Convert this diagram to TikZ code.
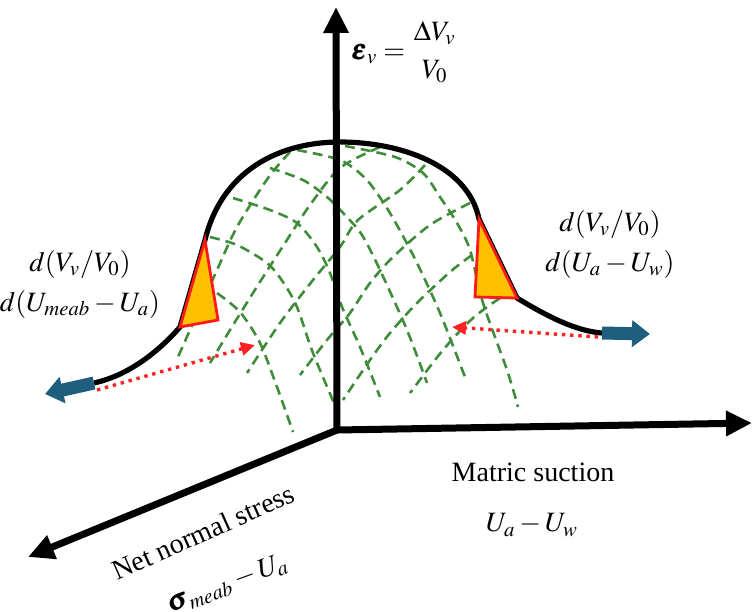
\documentclass[tikz,border=0pt]{standalone}
\usepackage{amsmath}
\usepackage{mathptmx}
\usepackage{fontspec}
\setmainfont{Liberation Serif}
\usetikzlibrary{arrows.meta}
\definecolor{Ink}{HTML}{000000}
\definecolor{Mesh}{HTML}{3F8C3A}
\definecolor{Wedge}{HTML}{FFC000}
\definecolor{WedgeLine}{HTML}{FF1A1A}
\definecolor{Flow}{HTML}{1F5E7E}
\definecolor{Hint}{HTML}{FF2222}
\tikzset{
  axis/.style={draw=Ink,line width=3.5pt,-{Triangle[length=13pt,width=12pt]}},
  crest/.style={draw=Ink,line width=2.6pt},
  meshline/.style={draw=Mesh,line width=1.3pt,dash pattern=on 5pt off 3pt},
  wedge/.style={draw=WedgeLine,fill=Wedge,line width=1.4pt,line join=miter},
  flowarr/.style={draw=Flow,line width=6.5pt,-{Triangle[length=9pt,width=13pt]}},
  hintarr/.style={draw=Hint,line width=1.7pt,dash pattern=on 1.7pt off 2.4pt,-{Triangle[length=7pt,width=6.5pt]}},
  lbl/.style={font=\fontsize{14}{16}\selectfont,inner sep=0pt},
  eqn/.style={font=\fontsize{14}{20}\selectfont,align=center,inner sep=0pt}
}
\begin{document}
\begin{tikzpicture}[x=0.5pt,y=-0.5pt]
  \useasboundingbox (0,0) rectangle (754,611);
  % mesh on the surface: meridians
  \draw[meshline] plot[smooth] coordinates {(217,293) (240,312) (260,343) (277,387) (293,432)};
  \draw[meshline] plot[smooth] coordinates {(210,237) (237,245) (267,263) (283,282) (297,307) (313,353) (337,410)};
  \draw[meshline] plot[smooth] coordinates {(233,198) (270,210) (297,223) (317,247) (330,273) (342,307) (360,347) (380,397)};
  \draw[meshline] plot[smooth] coordinates {(270,168) (303,180) (327,197) (345,215) (362,235) (380,270) (407,330) (427,383)};
  \draw[meshline] plot[smooth] coordinates {(297,150) (340,160) (365,178) (383,202) (398,227) (417,263) (440,313) (465,377)};
  \draw[meshline] plot[smooth] coordinates {(345,146) (395,157) (423,173) (440,197) (457,223) (470,250) (483,303) (507,370) (518,407)};
  % mesh on the surface: parallels
  \draw[meshline] plot[smooth] coordinates {(290,152) (268,178) (237,227) (217,270) (190,330) (178,357)};
  \draw[meshline] plot[smooth] coordinates {(380,147) (340,168) (310,205) (285,243) (258,285) (230,330) (210,363)};
  \draw[meshline] plot[smooth] coordinates {(425,165) (400,190) (358,220) (340,247) (313,280) (280,323) (247,373)};
  \draw[meshline] plot[smooth] coordinates {(470,203) (430,225) (393,257) (370,283) (350,313) (327,340) (300,375)};
  \draw[meshline] plot[smooth] coordinates {(472,255) (450,272) (417,303) (390,333) (370,360) (343,400)};
  \draw[meshline] plot[smooth] coordinates {(500,298) (473,318) (443,350) (410,393)};

  % axes
  \coordinate (O) at (337,430);
  \coordinate (strainTip) at (336,7);
  \coordinate (suctionTip) at (752,423);
  \coordinate (stressTip) at (28,557);
  \draw[axis] (O) -- (strainTip);
  \draw[axis] (O) -- (suctionTip);
  \draw[axis] (O) -- (stressTip);

  % crest curve
  \coordinate (lwTop) at (205,240);
  \coordinate (lwLeft) at (180,327);
  \coordinate (lwRight) at (218,320);
  \coordinate (rwTop) at (479,219);
  \coordinate (rwLeft) at (475,297);
  \coordinate (rwRight) at (517,298);
  \coordinate (lfTail) at (94,383);
  \coordinate (lfTip) at (45,394);
  \coordinate (rfTail) at (602,333);
  \coordinate (rfTip) at (650,334);
  \coordinate (peak) at (340,142);
  \draw[crest] (lfTail) .. controls (130,375) and (160,350) .. (lwLeft) -- (lwTop)
    .. controls (222,170) and (280,142) .. (peak)
    .. controls (400,142) and (468,165) .. (rwTop) -- (rwRight)
    .. controls (545,315) and (575,331) .. (rfTail);
  \draw[wedge] (lwTop) -- (lwLeft) -- (lwRight) -- cycle;
  \draw[wedge] (rwTop) -- (rwLeft) -- (rwRight) -- cycle;

  % slope hints
  \coordinate (lhStart) at (97,390);
  \coordinate (lhEnd) at (255,345);
  \coordinate (rhStart) at (598,337);
  \coordinate (rhEnd) at (452,327);
  \draw[hintarr] (lhStart) -- (lhEnd);
  \draw[hintarr] (rhStart) -- (rhEnd);
  \draw[flowarr] (lfTail) -- (lfTip);
  \draw[flowarr] (rfTail) -- (rfTip);

  % labels
  \node[eqn,anchor=west] (strainEq) at (352,52) {$\pmb{\varepsilon}_{v}=\genfrac{}{}{0pt}{0}{\Delta V_{v}}{V_{0}}$};
  \node[eqn] (leftRate) at (80,284) {$d(V_{v}/V_{0})$\\$d(U_{meab}-U_{a})$};
  \node[eqn] (rightRate) at (610,244) {$d(V_{v}/V_{0})$\\$d(U_{a}-U_{w})$};
  \node[lbl] (suction) at (533,472) {Matric suction};
  \node[eqn] (suctionEq) at (532,525) {$U_{a}-U_{w}$};
  \node[lbl,rotate=24] (stress) at (203,532) {Net normal stress};
  \node[eqn,rotate=20] (stressEq) at (228,584) {$\pmb{\sigma}_{meab}-U_{a}$};
\end{tikzpicture}
\end{document}
